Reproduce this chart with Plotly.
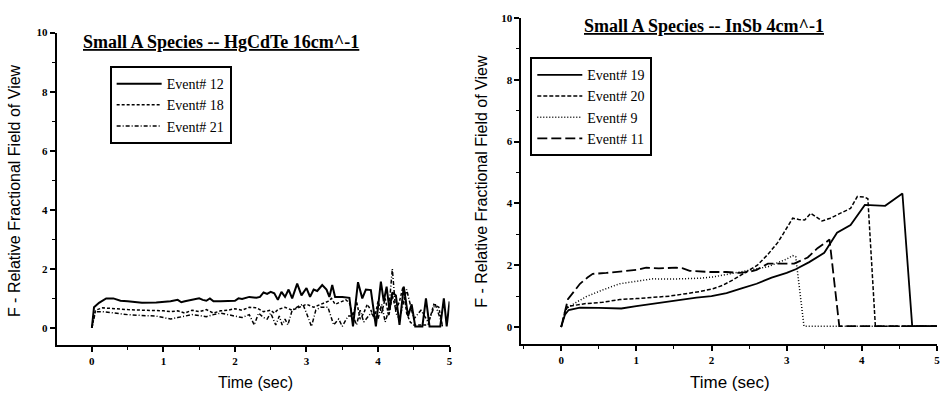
import plotly.graph_objects as go

W, H = 941, 393

# ---------------- Left panel: HgCdTe 16cm^-1 ----------------
t12 = [0, 0.03, 0.1, 0.2, 0.3, 0.4, 0.5, 0.7, 0.9, 1.0, 1.1, 1.2, 1.25, 1.3, 1.4, 1.5, 1.55, 1.6, 1.65, 1.7,
       1.8, 1.9, 2.0, 2.05, 2.1, 2.2, 2.3, 2.35, 2.4, 2.45, 2.5, 2.55, 2.6, 2.65, 2.7, 2.75, 2.8, 2.87, 2.93, 3.0,
       3.05, 3.1, 3.15, 3.22, 3.28, 3.32, 3.36, 3.4, 3.5, 3.6, 3.65, 3.72, 3.78, 3.83, 3.9, 3.97, 4.04, 4.08, 4.12, 4.16,
       4.2, 4.25, 4.3, 4.36, 4.42, 4.47, 4.52, 4.57, 4.62, 4.67, 4.72, 4.8, 4.87, 4.92, 4.96, 5.0]
y12 = [0, 0.7, 0.85, 1.0, 1.0, 0.92, 0.9, 0.85, 0.86, 0.88, 0.9, 0.95, 0.87, 0.9, 0.95, 1.0, 0.95, 0.92, 1.0, 0.9,
       0.9, 0.9, 0.92, 1.0, 0.98, 1.05, 1.02, 1.05, 1.2, 1.15, 1.22, 1.17, 0.95, 1.22, 1.05, 1.3, 1.0, 1.5, 1.1, 1.35,
       1.05, 1.3, 1.25, 1.45, 1.3, 1.05, 1.45, 1.05, 1.05, 1.02, 0.05, 1.55, 1.0, 1.3, 1.28, 0.05, 1.57, 0.9, 1.4, 0.6,
       1.2, 1.1, 0.1, 1.4, 0.4, 0.8, 0.05, 0.05, 0.05, 1.0, 0.05, 0.05, 0.05, 1.0, 0.05, 0.9]

t18 = [0.0, 0.05, 0.15, 0.3, 0.5, 0.7, 0.9, 1.0, 1.1, 1.2, 1.3, 1.4, 1.5, 1.6, 1.7, 1.8, 1.9, 2.0, 2.1, 2.2,
       2.3, 2.4, 2.5, 2.55, 2.6, 2.7, 2.8, 2.9, 3.0, 3.1, 3.2, 3.3, 3.35, 3.4, 3.5, 3.55, 3.6, 3.65, 3.7, 3.75,
       3.8, 3.85, 3.9, 3.95, 4.0, 4.05, 4.1, 4.15, 4.2, 4.25, 4.3, 4.35, 4.4, 4.45, 4.5, 4.6, 4.7, 4.78, 4.85, 4.9]
y18 = [0, 0.6, 0.68, 0.65, 0.62, 0.6, 0.6, 0.58, 0.55, 0.58, 0.5, 0.6, 0.55, 0.62, 0.5, 0.58, 0.6, 0.65, 0.6, 0.7,
       0.68, 0.55, 0.6, 0.5, 0.62, 0.7, 0.6, 0.7, 0.8, 0.7, 0.8, 0.9, 1.0, 0.8, 0.9, 0.95, 0.85, 0.4, 0.9, 0.3,
       0.5, 0.8, 0.6, 0.3, 0.9, 0.5, 1.0, 0.4, 1.1, 0.6, 0.9, 1.4, 0.5, 0.2, 0.1, 0.1, 0.1, 0.8, 0.7, 0.05]

t21 = [0, 0.05, 0.15, 0.3, 0.5, 0.7, 0.9, 1.0, 1.1, 1.2, 1.3, 1.4, 1.5, 1.6, 1.7, 1.8, 1.9, 2.0, 2.1, 2.2,
       2.27, 2.33, 2.4, 2.45, 2.5, 2.57, 2.62, 2.66, 2.7, 2.74, 2.8, 2.9, 2.95, 3.0, 3.07, 3.13, 3.2, 3.3, 3.38, 3.45,
       3.5, 3.58, 3.65, 3.7, 3.75, 3.8, 3.9, 4.0, 4.05, 4.1, 4.15, 4.2, 4.25, 4.3, 4.4, 4.5, 4.6, 4.7, 4.8, 4.9]
y21 = [0, 0.55, 0.55, 0.5, 0.45, 0.42, 0.4, 0.35, 0.3, 0.35, 0.4, 0.45, 0.42, 0.38, 0.45, 0.5, 0.45, 0.4, 0.35, 0.45,
       0.1, 0.5, 0.35, 0.3, 0.5, 0.1, 0.4, 0.1, 0.3, 0.1, 0.6, 0.75, 0.8, 0.5, 0.05, 0.6, 0.7, 0.7, 0.1, 0.3,
       0.05, 0.4, 0.4, 0.1, 0.6, 0.2, 0.5, 0.3, 0.8, 0.2, 0.6, 2.0, 0.5, 0.3, 1.3, 0.3, 0.6, 0.2, 0.8, 0.1]

# ---------------- Right panel: InSb 4cm^-1 ----------------
t19 = [0, 0.05, 0.1, 0.25, 0.5, 0.8, 1.0, 1.2, 1.4, 1.66, 1.8, 2.0, 2.2, 2.4, 2.6, 2.8, 3.0, 3.12, 3.3, 3.5,
       3.67, 3.85, 4.04, 4.31, 4.54, 4.67, 5.0]
y19 = [0, 0.4, 0.55, 0.63, 0.62, 0.6, 0.68, 0.75, 0.8, 0.9, 0.95, 1.0, 1.1, 1.25, 1.4, 1.6, 1.75, 1.87, 2.1, 2.4,
       3.05, 3.3, 3.95, 3.92, 4.32, 0.03, 0.03]

t20 = [0, 0.05, 0.09, 0.33, 0.55, 0.78, 1.0, 1.22, 1.44, 1.66, 1.85, 2.02, 2.15, 2.28, 2.41, 2.5, 2.61, 2.75, 2.88, 2.95,
       3.08, 3.16, 3.24, 3.32, 3.4, 3.47, 3.58, 3.67, 3.76, 3.85, 3.94, 4.04, 4.08, 4.18, 5.0]
y20 = [0, 0.5, 0.67, 0.76, 0.8, 0.89, 0.92, 0.95, 1.0, 1.08, 1.15, 1.24, 1.35, 1.52, 1.71, 1.85, 2.0, 2.35, 2.73, 3.0,
       3.52, 3.48, 3.46, 3.68, 3.55, 3.43, 3.52, 3.62, 3.72, 3.84, 4.22, 4.2, 4.15, 0.03, 0.03]

t9 = [0, 0.05, 0.07, 0.2, 0.33, 0.55, 0.78, 1.0, 1.22, 1.44, 1.66, 1.85, 2.02, 2.2, 2.37, 2.55, 2.75, 2.9, 3.0, 3.08,
      3.12, 3.23, 5.0]
y9 = [0, 0.45, 0.6, 0.8, 0.98, 1.2, 1.4, 1.48, 1.56, 1.55, 1.56, 1.58, 1.62, 1.7, 1.78, 1.85, 1.95, 2.1, 2.2, 2.31,
      2.28, 0.03, 0.03]

t11 = [0, 0.05, 0.09, 0.17, 0.25, 0.35, 0.42, 0.6, 0.78, 1.0, 1.13, 1.3, 1.53, 1.62, 1.71, 1.98, 2.2, 2.37, 2.5, 2.6,
       2.75, 2.9, 3.1, 3.28, 3.41, 3.5, 3.57, 3.7, 5.0]
y11 = [0, 0.5, 0.9, 1.15, 1.4, 1.6, 1.72, 1.75, 1.8, 1.85, 1.92, 1.9, 1.92, 1.9, 1.82, 1.78, 1.78, 1.75, 1.78, 1.85,
       2.05, 2.05, 2.05, 2.25, 2.55, 2.7, 2.83, 0.03, 0.03]

left_title = "Small A Species -- HgCdTe 16cm^-1"
right_title = "Small A Species -- InSb 4cm^-1"
y_title = "F - Relative Fractional Field of View"
x_title = "Time (sec)"

SERIF = "Liberation Serif"
SANS = "Liberation Sans"


def px(x):
    return x / W


def py(y):
    return 1 - y / H


fig = go.Figure()

left_series = [
    ("Event# 12", t12, y12, "solid", 2.0),
    ("Event# 18", t18, y18, "3px,2px", 1.5),
    ("Event# 21", t21, y21, "4px,2px,1px,2px", 1.5),
]
right_series = [
    ("Event# 19", t19, y19, "solid", 1.8),
    ("Event# 20", t20, y20, "4px,2px", 1.5),
    ("Event# 9", t9, y9, "1px,2px", 1.5),
    ("Event# 11", t11, y11, "10px,4px", 1.8),
]

for name, t, y, dash, w in left_series:
    fig.add_trace(go.Scatter(x=t, y=y, mode="lines", name=name, xaxis="x", yaxis="y",
                             line=dict(color="black", width=w, dash=dash), legend="legend"))
for name, t, y, dash, w in right_series:
    fig.add_trace(go.Scatter(x=t, y=y, mode="lines", name=name, xaxis="x2", yaxis="y2",
                             line=dict(color="black", width=w, dash=dash), legend="legend2"))

tickfont = dict(family=SERIF, size=11, color="black", weight="bold")


def xaxis(domain, rng, anchor):
    return dict(domain=domain, range=rng, anchor=anchor, showgrid=False, zeroline=False,
                showline=True, linecolor="black", linewidth=2, ticks="outside", ticklen=5, tickwidth=1.5,
                tickcolor="black", tickvals=[0, 1, 2, 3, 4, 5], tickfont=tickfont,
                minor=dict(tickvals=[-0.5, 0.5, 1.5, 2.5, 3.5, 4.5], ticks="outside", ticklen=3,
                           tickwidth=1.2, tickcolor="black"))


def yaxis(domain, rng, anchor):
    return dict(domain=domain, range=rng, anchor=anchor, showgrid=False, zeroline=False,
                showline=True, linecolor="black", linewidth=2, ticks="outside", ticklen=5, tickwidth=1.5,
                tickcolor="black", tickvals=[0, 2, 4, 6, 8, 10], tickfont=tickfont,
                minor=dict(tickvals=[1, 3, 5, 7, 9], ticks="outside", ticklen=3,
                           tickwidth=1.2, tickcolor="black"))


legend_common = dict(bgcolor="white", bordercolor="black", borderwidth=2,
                     font=dict(family=SERIF, size=14, color="black"),
                     xanchor="left", yanchor="top", tracegroupgap=0, itemwidth=45)

fig.update_layout(
    width=W, height=H,
    margin=dict(l=0, r=0, t=0, b=0),
    paper_bgcolor="white", plot_bgcolor="white",
    showlegend=True,
    xaxis=xaxis([px(57), px(451)], [-0.49, 5.0], "y"),
    yaxis=yaxis([py(344), py(27)], [-0.57, 10], "x"),
    xaxis2=xaxis([px(523), px(940)], [-0.53, 5.0], "y2"),
    yaxis2=yaxis([py(343), py(12)], [-0.54, 10], "x2"),
    legend=dict(x=px(110), y=py(61), **legend_common),
    legend2=dict(x=px(532), y=py(52), **legend_common),
)

ann = []


def add_text(text, x, y, font, angle=0):
    ann.append(dict(text=text, x=px(x), y=py(y), xref="paper", yref="paper", showarrow=False,
                    xanchor="center", yanchor="middle", textangle=angle, font=font))


add_text("<b><u>" + left_title + "</u></b>", 222, 37, dict(family=SERIF, size=18, color="black"))
add_text("<b><u>" + right_title + "</u></b>", 706, 20, dict(family=SERIF, size=18, color="black"))
add_text(x_title, 256, 382, dict(family=SANS, size=16, color="black"))
add_text(x_title, 732, 382, dict(family=SANS, size=17, color="black"))
add_text(y_title, 14, 187, dict(family=SANS, size=16, color="black"), -90)
add_text(y_title, 483, 178, dict(family=SANS, size=16, color="black"), -90)
fig.update_layout(annotations=ann)

fig.write_html("out.html", config={"displayModeBar": False},
               post_script="document.body.style.margin='0';document.body.style.overflow='hidden';")
